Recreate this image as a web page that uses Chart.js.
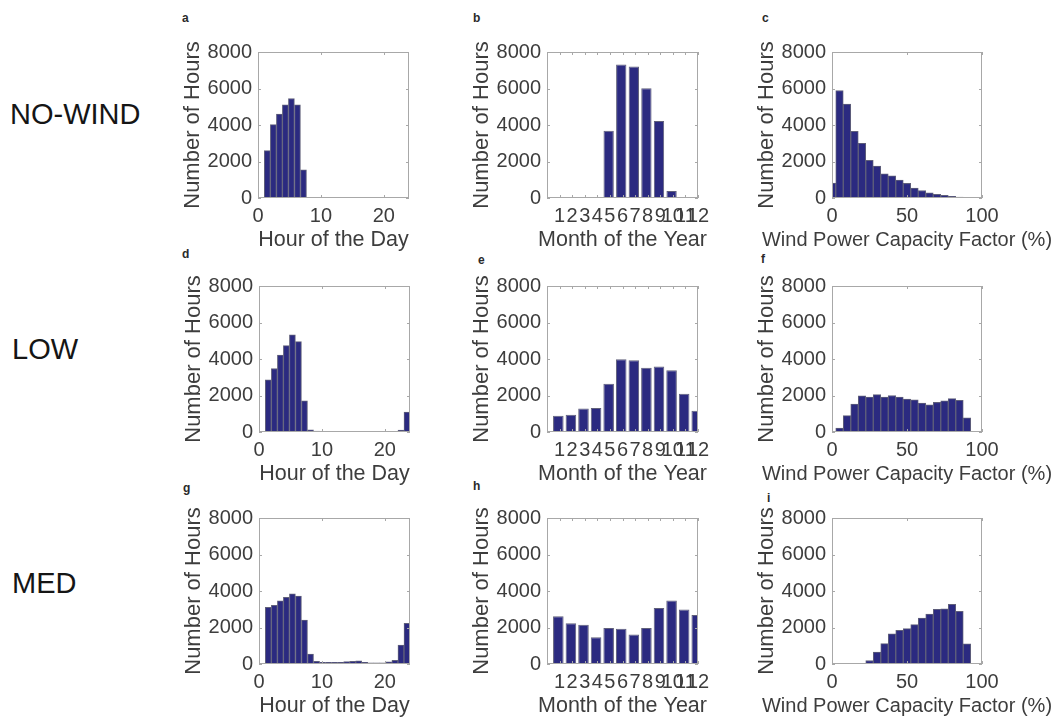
<!DOCTYPE html>
<html>
<head>
<meta charset="utf-8">
<script src="https://cdn.jsdelivr.net/npm/chart.js@4.4.1/dist/chart.umd.min.js"></script>
<style>
  body { margin: 0; background: #fff; width: 1059px; height: 725px; position: relative; overflow: hidden;
         font-family: "Liberation Sans", Arial, sans-serif; }
  canvas { position: absolute; }
  .row { position: absolute; font-size: 29px; color: #151515; line-height: 1; }
  .tag { position: absolute; font-size: 12px; font-weight: bold; color: #2a2a2a; line-height: 1; }
</style>
</head>
<body>

<div class="row" style="left:10px;top:100px">NO-WIND</div>
<div class="row" style="left:12px;top:335px">LOW</div>
<div class="row" style="left:12px;top:569px">MED</div>

<div class="tag" style="left:182px;top:12px">a</div>
<div class="tag" style="left:473px;top:12px">b</div>
<div class="tag" style="left:762px;top:12px">c</div>
<div class="tag" style="left:182px;top:248px">d</div>
<div class="tag" style="left:478px;top:254px">e</div>
<div class="tag" style="left:761px;top:253px">f</div>
<div class="tag" style="left:183px;top:482px">g</div>
<div class="tag" style="left:473px;top:480px">h</div>
<div class="tag" style="left:767px;top:492px">i</div>

<canvas id="pa"></canvas><canvas id="pb"></canvas><canvas id="pc"></canvas>
<canvas id="pd"></canvas><canvas id="pe"></canvas><canvas id="pf"></canvas>
<canvas id="pg"></canvas><canvas id="ph"></canvas><canvas id="pi"></canvas>

<script>
// bin centres of the three histograms
const hourCenters = [1.48, 2.44, 3.40, 4.35, 5.31, 6.27, 7.23, 8.19, 9.15, 10.10, 11.06, 12.02,
                     12.98, 13.94, 14.90, 15.85, 16.81, 17.77, 18.73, 19.69, 20.65, 21.60, 22.56, 23.52];
const monthCenters = [0.9, 1.9, 2.9, 3.9, 4.9, 5.9, 6.9, 7.9, 8.9, 9.9, 10.9, 11.9];
const cfCenters = [0, 5, 10, 15, 20, 25, 30, 35, 40, 45, 50, 55, 60, 65, 70, 75, 80, 85, 90];

// tick labels
const hourTicks = [0, 10, 20];
const monthTicks = [1, 2, 3, 4, 5, 6, 7, 8, 9, 10, 11, 12];
const cfTicks = [0, 50, 100];
const countTicks = [0, 2000, 4000, 6000, 8000];

// hours per bin, NO-WIND / LOW / MED
const noWindHour = [2600, 4020, 4600, 5100, 5450, 5100, 1540, 0, 0, 0, 0, 0,
                    0, 0, 0, 0, 0, 0, 0, 0, 0, 0, 0, 0];
const noWindMonth = [0, 0, 0, 30, 3690, 7310, 7200, 6010, 4220, 390, 0, 0];
const noWindCf = [820, 5890, 5140, 3660, 3000, 2070, 1750, 1320, 1210, 980, 800, 550,
                  410, 290, 200, 140, 90, 50, 20];

const lowHour = [2860, 3480, 4210, 4730, 5320, 4950, 1710, 125, 50, 0, 0, 0,
                 0, 0, 0, 0, 0, 0, 0, 0, 0, 30, 110, 1090];
const lowMonth = [890, 950, 1290, 1320, 2640, 3980, 3930, 3520, 3590, 3390, 2090, 1160];
const lowCf = [0, 220, 900, 1530, 1980, 1920, 2050, 1920, 2000, 1920, 1800, 1760,
               1580, 1490, 1620, 1710, 1830, 1740, 770];

const medHour = [3100, 3210, 3460, 3650, 3850, 3720, 2410, 550, 140, 90, 90, 90,
                 90, 130, 150, 180, 90, 60, 60, 70, 120, 200, 1030, 2230];
const medMonth = [2620, 2230, 2150, 1470, 1970, 1930, 1610, 1970, 3070, 3480, 2980, 2680];
const medCf = [0, 0, 0, 0, 30, 190, 660, 1120, 1660, 1850, 1940, 2160,
               2520, 2730, 3000, 3020, 3270, 2890, 1100];

const FONT = '"Liberation Sans", Arial, sans-serif';
const TXT = '#3d3d3d';
const BAR = '#2b2a80';
const EDGE = '#60607a';

// axes box with inward tick marks on all four sides
const boxTicks = {
  id: 'boxTicks',
  afterDatasetsDraw(chart) {
    const { ctx, chartArea: a, scales: { x, y } } = chart;
    ctx.save();
    ctx.strokeStyle = '#a8a8a8';
    ctx.lineWidth = 1;
    ctx.strokeRect(a.left + 0.5, a.top + 0.5, a.right - a.left - 1, a.bottom - a.top - 1);
    ctx.beginPath();
    x.ticks.forEach(t => {
      const px = Math.round(x.getPixelForValue(t.value)) + 0.5;
      ctx.moveTo(px, a.bottom); ctx.lineTo(px, a.bottom - 3);
      ctx.moveTo(px, a.top); ctx.lineTo(px, a.top + 3);
    });
    y.ticks.forEach(t => {
      const py = Math.round(y.getPixelForValue(t.value)) + 0.5;
      ctx.moveTo(a.left, py); ctx.lineTo(a.left + 3, py);
      ctx.moveTo(a.right, py); ctx.lineTo(a.right - 3, py);
    });
    ctx.stroke();
    ctx.restore();
  }
};

// x-axis caption centred under the plot, allowed to run wider than the axes
const xCaption = {
  id: 'xCaption',
  afterDraw(chart, args, opts) {
    const { ctx, chartArea: a } = chart;
    ctx.save();
    ctx.font = opts.size + 'px ' + FONT;
    ctx.fillStyle = TXT;
    ctx.textAlign = 'center';
    ctx.textBaseline = 'middle';
    ctx.fillText(opts.text, (a.left + a.right) / 2, a.bottom + 42);
    ctx.restore();
  }
};

const YW = 80, XH = 60, PT = 14;

function panel(id, plotLeft, plotTop, w, h, centers, values, xMax, xTicks, xTitle, barPct, padRight) {
  const cv = document.getElementById(id);
  cv.width = YW + w + padRight;
  cv.height = PT + h + XH;
  cv.style.left = (plotLeft - YW) + 'px';
  cv.style.top = (plotTop - PT) + 'px';

  new Chart(cv, {
    type: 'bar',
    data: {
      datasets: [{
        data: centers.map((c, i) => ({ x: c, y: values[i] })),
        backgroundColor: BAR,
        borderColor: EDGE,
        borderWidth: 1,
        barPercentage: barPct,
        categoryPercentage: 1
      }]
    },
    options: {
      responsive: false,
      animation: false,
      layout: { padding: { top: PT, right: padRight, left: 0, bottom: 0 } },
      plugins: {
        legend: { display: false },
        tooltip: { enabled: false },
        xCaption: { text: xTitle, size: xTitle === CF ? 20 : 21.5 }
      },
      scales: {
        x: {
          type: 'linear', min: 0, max: xMax, offset: false,
          grid: { display: false, drawTicks: false },
          border: { display: false },
          afterBuildTicks: s => { s.ticks = xTicks.map(v => ({ value: v })); },
          afterFit: s => { s.height = XH; },
          ticks: { autoSkip: false, maxRotation: 0, padding: 6, color: TXT,
                   font: { family: FONT, size: 20 }, callback: v => String(v) }
        },
        y: {
          min: 0, max: 8000,
          grid: { display: false, drawTicks: false },
          border: { display: false },
          afterBuildTicks: s => { s.ticks = countTicks.map(v => ({ value: v })); },
          afterFit: s => { s.width = YW; },
          ticks: { padding: 6, color: TXT, font: { family: FONT, size: 20 }, callback: v => String(v) },
          title: { display: true, text: 'Number of Hours', color: TXT, padding: { top: 2, bottom: 0 },
                   font: { family: FONT, size: 22 } }
        }
      }
    },
    plugins: [boxTicks, xCaption]
  });
}

const HOUR = 'Hour of the Day', MONTH = 'Month of the Year', CF = 'Wind Power Capacity Factor (%)';

panel('pa', 258, 48, 151, 150, hourCenters, noWindHour, 24, hourTicks, HOUR, 1, 40);
panel('pb', 547, 48, 151, 150, monthCenters, noWindMonth, 12, monthTicks, MONTH, 0.82, 40);
panel('pc', 832, 48, 150, 150, cfCenters, noWindCf, 100, cfTicks, CF, 1, 76);

panel('pd', 259, 282, 151, 150, hourCenters, lowHour, 24, hourTicks, HOUR, 1, 40);
panel('pe', 547, 282, 151, 150, monthCenters, lowMonth, 12, monthTicks, MONTH, 0.84, 40);
panel('pf', 832, 282, 150, 150, cfCenters, lowCf, 100, cfTicks, CF, 1, 76);

panel('pg', 259, 514, 151, 150, hourCenters, medHour, 24, hourTicks, HOUR, 1, 40);
panel('ph', 547, 514, 151, 150, monthCenters, medMonth, 12, monthTicks, MONTH, 0.84, 40);
panel('pi', 832, 514, 150, 150, cfCenters, medCf, 100, cfTicks, CF, 1, 76);
</script>
</body>
</html>
